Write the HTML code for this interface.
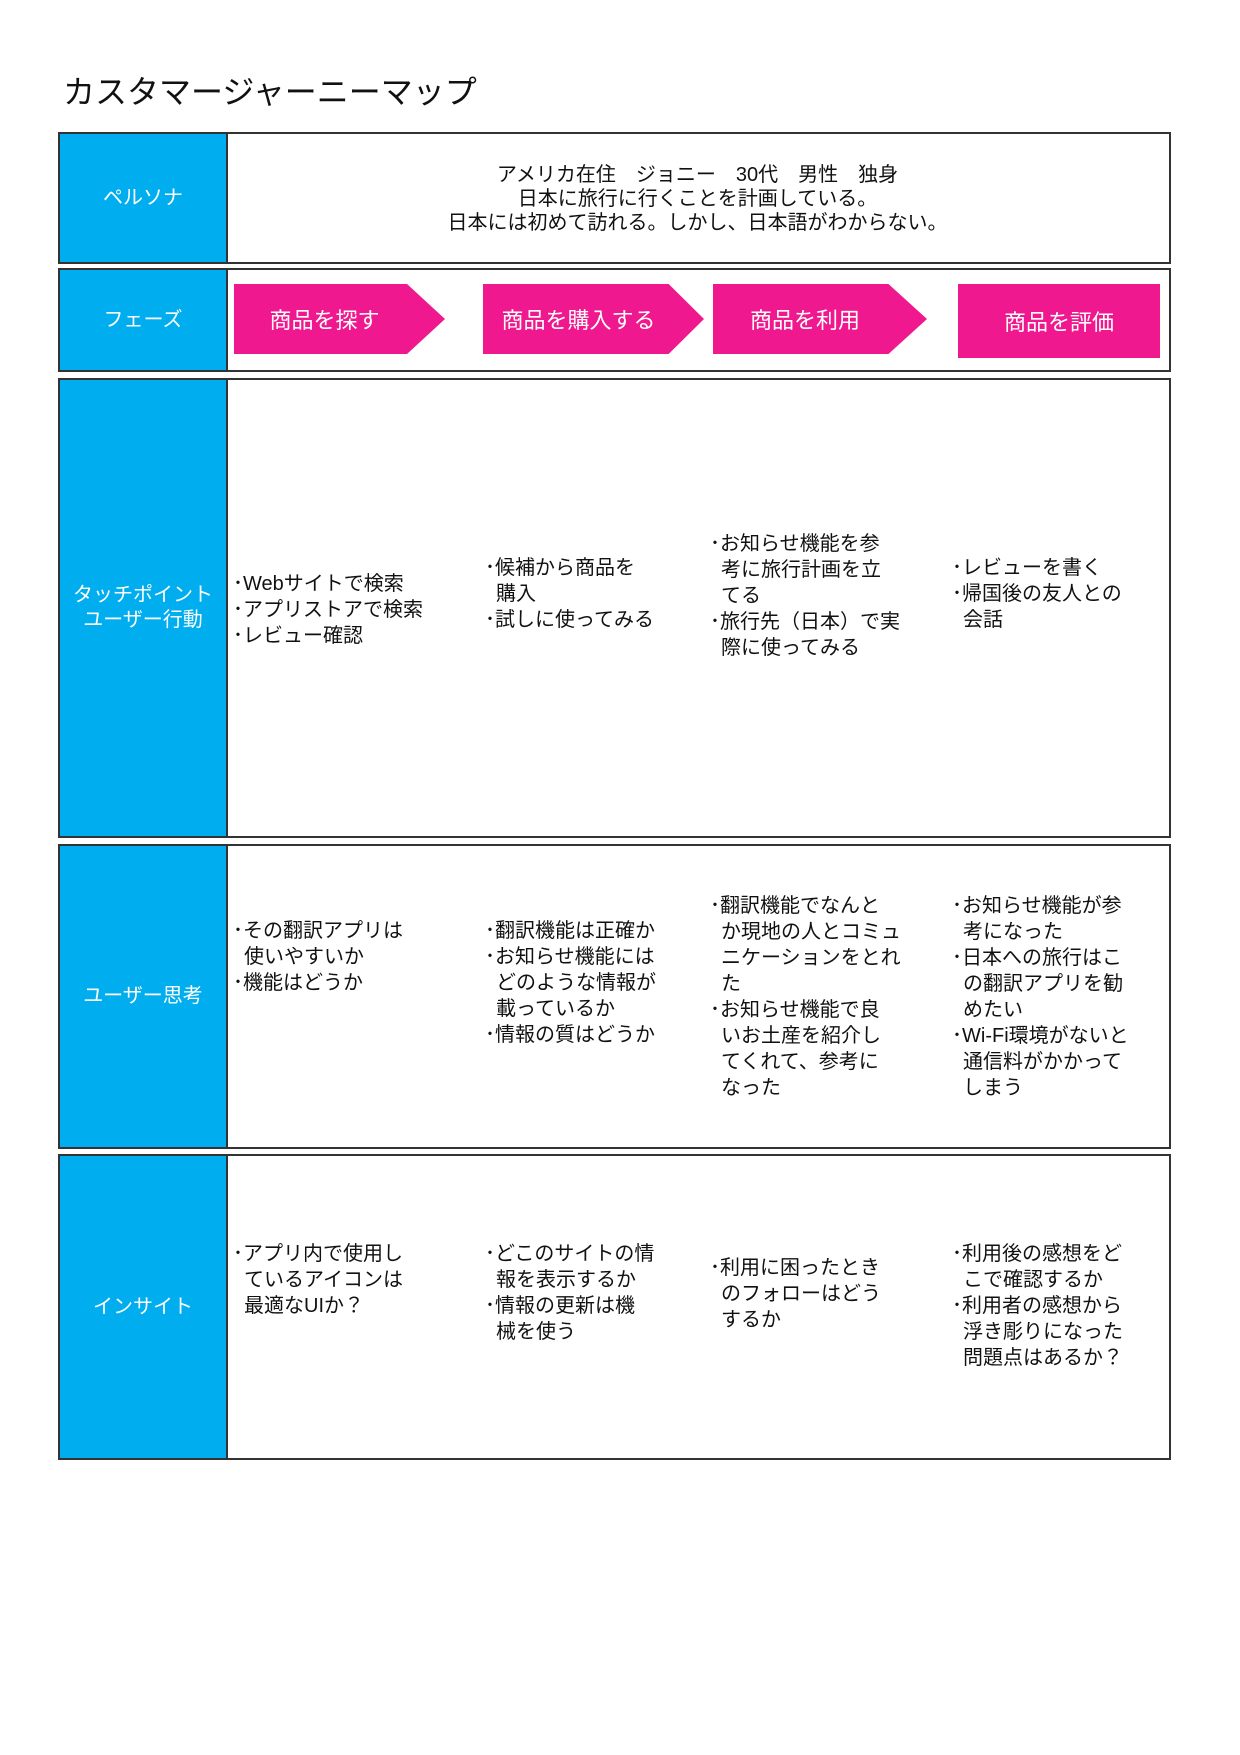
<!DOCTYPE html>
<html><head><meta charset="utf-8"><style>
body{margin:0;width:1240px;height:1755px;background:#fff;position:relative;font-family:"Liberation Sans","Noto Sans CJK JP",sans-serif;color:#111;overflow:hidden}
.t{position:absolute;left:63px;top:72px;font-size:32px;line-height:40px;color:#111}
.row{position:absolute;left:58px;width:1113px;border:2px solid #333;box-sizing:border-box;background:#fff}
.lab{position:absolute;left:0;top:0;bottom:0;width:166px;background:#00AEEF;border-right:2px solid #333;color:#fff;font-size:20px;line-height:25px;text-align:center;display:flex;align-items:center;justify-content:center}
.tx{position:absolute;font-size:20px;line-height:26px;white-space:nowrap}
.tx div.c{padding-left:11px}
.ph{position:absolute;top:284px;height:70px;background:#F0188E;color:#fff;font-size:22px;display:flex;align-items:center;justify-content:center}
</style></head><body>
<div class="t">カスタマージャーニーマップ</div>

<div class="row" style="top:132px;height:132px"><div class="lab">ペルソナ</div>
<div class="tx" style="left:166px;right:0;top:29px;text-align:center;line-height:24px">アメリカ在住　ジョニー　30代　男性　独身<br>日本に旅行に行くことを計画している。<br>日本には初めて訪れる。しかし、日本語がわからない。</div></div>

<div class="row" style="top:268px;height:104px"><div class="lab">フェーズ</div></div>
<div class="ph" style="left:234px;width:211px;clip-path:polygon(0 0,82% 0,100% 50%,82% 100%,0 100%);padding-right:30px;box-sizing:border-box">商品を探す</div>
<div class="ph" style="left:483px;width:221px;clip-path:polygon(0 0,84% 0,100% 50%,84% 100%,0 100%);padding-right:30px;box-sizing:border-box">商品を購入する</div>
<div class="ph" style="left:713px;width:214px;clip-path:polygon(0 0,82% 0,100% 50%,82% 100%,0 100%);padding-right:30px;box-sizing:border-box">商品を利用</div>
<div class="ph" style="left:958px;width:202px;height:74px">商品を評価</div>

<div class="row" style="top:378px;height:460px"><div class="lab">タッチポイント<br>ユーザー行動</div></div>
<div class="tx" style="left:233px;top:571px"><div>･Webサイトで検索</div><div>･アプリストアで検索</div><div>･レビュー確認</div></div>
<div class="tx" style="left:485px;top:555px"><div>･候補から商品を</div><div class="c">購入</div><div>･試しに使ってみる</div></div>
<div class="tx" style="left:710px;top:531px"><div>･お知らせ機能を参</div><div class="c">考に旅行計画を立</div><div class="c">てる</div><div>･旅行先（日本）で実</div><div class="c">際に使ってみる</div></div>
<div class="tx" style="left:952px;top:555px"><div>･レビューを書く</div><div>･帰国後の友人との</div><div class="c">会話</div></div>

<div class="row" style="top:844px;height:305px"><div class="lab">ユーザー思考</div></div>
<div class="tx" style="left:233px;top:918px"><div>･その翻訳アプリは</div><div class="c">使いやすいか</div><div>･機能はどうか</div></div>
<div class="tx" style="left:485px;top:918px"><div>･翻訳機能は正確か</div><div>･お知らせ機能には</div><div class="c">どのような情報が</div><div class="c">載っているか</div><div>･情報の質はどうか</div></div>
<div class="tx" style="left:710px;top:893px"><div>･翻訳機能でなんと</div><div class="c">か現地の人とコミュ</div><div class="c">ニケーションをとれ</div><div class="c">た</div><div>･お知らせ機能で良</div><div class="c">いお土産を紹介し</div><div class="c">てくれて、参考に</div><div class="c">なった</div></div>
<div class="tx" style="left:952px;top:893px"><div>･お知らせ機能が参</div><div class="c">考になった</div><div>･日本への旅行はこ</div><div class="c">の翻訳アプリを勧</div><div class="c">めたい</div><div>･Wi-Fi環境がないと</div><div class="c">通信料がかかって</div><div class="c">しまう</div></div>

<div class="row" style="top:1154px;height:306px"><div class="lab">インサイト</div></div>
<div class="tx" style="left:233px;top:1241px"><div>･アプリ内で使用し</div><div class="c">ているアイコンは</div><div class="c">最適なUIか？</div></div>
<div class="tx" style="left:485px;top:1241px"><div>･どこのサイトの情</div><div class="c">報を表示するか</div><div>･情報の更新は機</div><div class="c">械を使う</div></div>
<div class="tx" style="left:710px;top:1255px"><div>･利用に困ったとき</div><div class="c">のフォローはどう</div><div class="c">するか</div></div>
<div class="tx" style="left:952px;top:1241px"><div>･利用後の感想をど</div><div class="c">こで確認するか</div><div>･利用者の感想から</div><div class="c">浮き彫りになった</div><div class="c">問題点はあるか？</div></div>
</body></html>
